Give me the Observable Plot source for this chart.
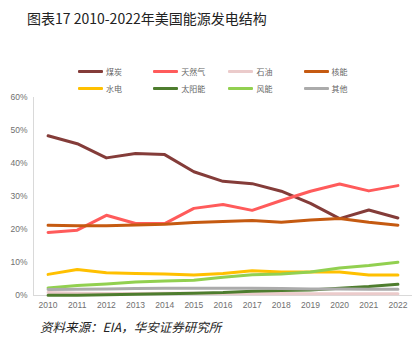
<!DOCTYPE html>
<html><head><meta charset="utf-8">
<script src="https://cdn.jsdelivr.net/npm/d3@7"></script>
<script src="https://cdn.jsdelivr.net/npm/@observablehq/plot@0.6"></script>
<style>
body{margin:0;background:#fff;}
#wrap{position:relative;width:419px;height:352px;overflow:hidden;font-family:"Liberation Sans",Arial,sans-serif;}
#title{position:absolute;left:27px;top:8px;font-family:"Noto Sans CJK SC",sans-serif;font-size:14px;color:#222;white-space:nowrap;line-height:20px;}
#legend{position:absolute;left:0;top:0;}
.li{position:absolute;height:12px;display:flex;align-items:center;font-family:"Noto Sans CJK SC",sans-serif;font-size:8px;color:#666;white-space:nowrap;}
.sw{width:25px;height:3px;margin-right:3px;border-radius:1px;}
#chart{position:absolute;left:0;top:90px;}
#caption{position:absolute;left:40px;top:318px;font-family:"Noto Sans CJK SC",sans-serif;font-size:12.5px;font-style:italic;color:#222;white-space:nowrap;line-height:18px;}
</style></head>
<body>
<div id="wrap">
<div id="title">图表17 2010-2022年美国能源发电结构</div>
<div id="legend"></div>
<div id="chart"></div>
<div id="caption">资料来源：EIA，华安证券研究所</div>
</div>
<script>
const years = [2010,2011,2012,2013,2014,2015,2016,2017,2018,2019,2020,2021,2022];
const seriesNames = ["煤炭","天然气","石油","核能","水电","太阳能","风能","其他"];
const seriesColors = ["#843C39","#FF5B5B","#EBCBCB","#C55A11","#FFC000","#4E7D2E","#92D050","#ABABAB"];
const coal    = [48.4,46.0,41.7,43.0,42.7,37.5,34.6,33.9,31.6,27.9,23.3,25.9,23.5];
const gas     = [19.1,19.8,24.3,21.8,21.8,26.4,27.6,25.8,28.8,31.6,33.8,31.7,33.3];
const oil     = [0.9,0.7,0.6,0.6,0.7,0.7,0.6,0.5,0.6,0.5,0.5,0.5,0.5];
const nuclear = [21.3,21.1,21.1,21.4,21.6,22.1,22.4,22.7,22.2,22.9,23.3,22.2,21.3];
const hydro   = [6.4,7.9,6.9,6.7,6.5,6.2,6.7,7.5,7.1,7.1,7.1,6.2,6.2];
const solar   = [0.1,0.1,0.2,0.4,0.5,0.7,0.9,1.3,1.5,1.7,2.2,2.7,3.4];
const wind    = [2.3,3.0,3.5,4.1,4.4,4.6,5.5,6.3,6.5,7.1,8.3,9.1,10.1];
const other   = [1.8,1.9,2.0,2.1,2.2,2.2,2.2,2.2,2.1,2.0,2.0,1.9,1.9];
const yTicks  = [0,10,20,30,40,50,60];

const seriesValues = [coal,gas,oil,nuclear,hydro,solar,wind,other];
const rows = [];
seriesNames.forEach((s,i)=>years.forEach((y,j)=>rows.push({series:s,year:y,value:seriesValues[i][j]})));

// legend
const leg = document.getElementById("legend");
seriesNames.forEach((s,i)=>{
  const d = document.createElement("div");
  d.className="li";
  d.style.left = (78 + (i%4)*75.2) + "px";
  d.style.top = (i<4 ? 65 : 82) + "px";
  d.innerHTML = `<span class="sw" style="background:${seriesColors[i]}"></span><span>${s}</span>`;
  leg.appendChild(d);
});

const xMin = d3.min(years)-0.5, xMax = d3.max(years)+0.5;
const plot = Plot.plot({
  width: 419, height: 225,
  marginTop: 7, marginBottom: 20, marginLeft: 33, marginRight: 7,
  style: {fontFamily:"'Liberation Sans',Arial,sans-serif", fontSize:"8.5px", color:"#707070", background:"transparent"},
  x: {domain:[xMin,xMax], ticks: years, tickFormat: d=>String(d), tickSize:0, tickPadding:6, label:null},
  y: {domain:[0,60], ticks: yTicks, tickFormat: d=>d+"%", tickSize:0, tickPadding:6, label:null},
  color: {domain: seriesNames, range: seriesColors},
  marks: [
    Plot.ruleY([0], {stroke:"#D9D9D9", strokeWidth:1}),
    Plot.ruleX([xMin], {stroke:"#D9D9D9", strokeWidth:1}),
    Plot.line(rows, {x:"year", y:"value", z:"series", stroke:"series", strokeWidth:3, curve:"linear"})
  ]
});
document.getElementById("chart").appendChild(plot);
</script>
</body></html>
